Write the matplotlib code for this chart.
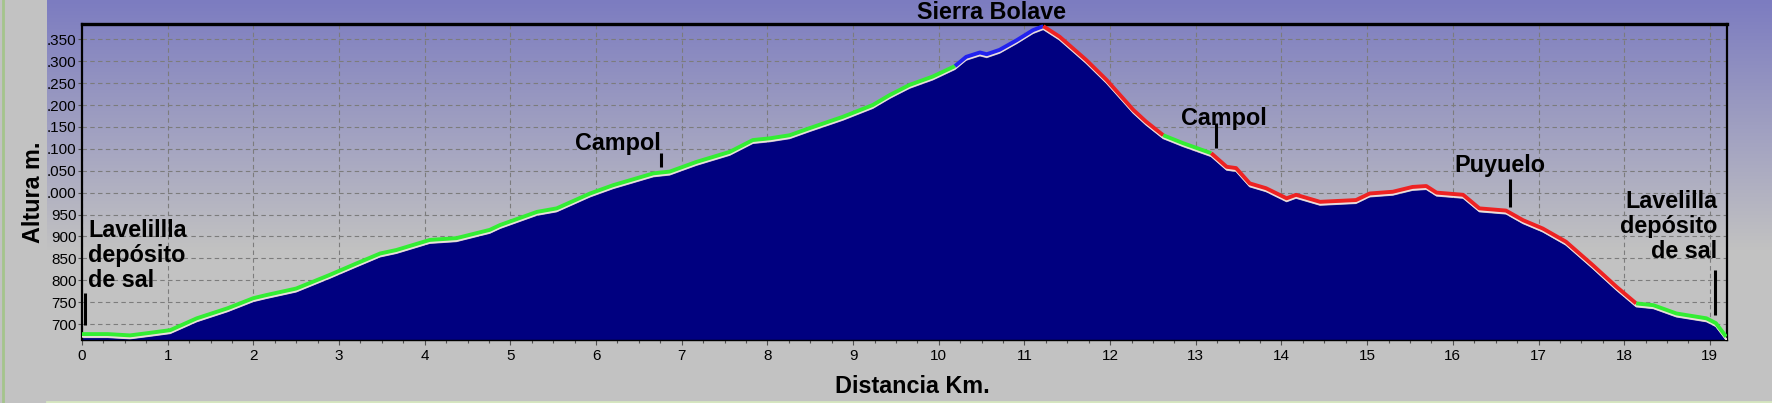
import numpy as np
import matplotlib
matplotlib.use('Agg')
import matplotlib.pyplot as plt
from matplotlib.transforms import offset_copy

plt.rcParams['font.family'] = ['Liberation Sans', 'DejaVu Sans']

# elevation profile (distance km, altitude m)
km = [0.0, 0.3, 0.56, 0.8, 1.03, 1.34, 1.7, 2.0, 2.15, 2.5, 2.89, 3.2, 3.48, 3.67,
      4.06, 4.37, 4.76, 4.88, 5.31, 5.54, 5.93, 6.2, 6.67, 6.86, 7.17, 7.56, 7.83,
      8.03, 8.26, 8.49, 8.88, 9.23, 9.43, 9.66, 9.93, 10.19, 10.32, 10.48, 10.56,
      10.71, 10.91, 11.1, 11.22, 11.41, 11.72, 11.96, 12.27, 12.42, 12.62, 12.85,
      13.18, 13.36, 13.47, 13.63, 13.82, 14.06, 14.17, 14.45, 14.87, 15.03, 15.3,
      15.53, 15.69, 15.81, 16.12, 16.31, 16.62, 16.82, 17.05, 17.32, 17.63, 17.91,
      18.14, 18.34, 18.61, 18.96, 19.07, 19.19]
elev = [677, 677, 674, 680, 686, 713, 736, 759, 766, 781, 812, 838, 861, 869,
        892, 896, 915, 926, 956, 964, 998, 1017, 1044, 1048, 1070, 1093, 1120,
        1124, 1131, 1147, 1173, 1200, 1223, 1246, 1265, 1289, 1310, 1320, 1316,
        1326, 1348, 1371, 1380, 1356, 1303, 1257, 1189, 1162, 1131, 1113,
        1090, 1059, 1056, 1021, 1010, 987, 995, 979, 983, 998, 1002,
        1013, 1015, 1000, 995, 964, 959, 937, 918, 888, 835, 785,
        747, 743, 724, 713, 702, 671]

# coloured stretches of the track
sec_start = [0.0, 10.19, 11.22, 12.62, 13.18, 18.14]
sec_end = [10.19, 11.22, 12.62, 13.18, 18.14, 19.19]
sec_color = ['#33ee33', '#2222ee', '#ee2222', '#33ee33', '#ee2222', '#33ee33']

# waypoint marks (km, bottom and top of the black tick in metres)
wp_km = [0.04, 6.76, 13.23, 16.67, 19.06]
wp_low = [698, 1058, 1102, 968, 721]
wp_high = [771, 1090, 1159, 1031, 823]

x_ticks = list(range(0, 20))
y_ticks = list(range(700, 1351, 50))
y_tick_labels = ['700', '750', '800', '850', '900', '950', '.000', '.050',
                 '.100', '.150', '.200', '.250', '.300', '.350']

W, H = 1772, 403
fig = plt.figure(figsize=(W / 100, H / 100), dpi=100)
fig.patch.set_facecolor('#c2c2c2')

# window background: purple to grey gradient, green frame edges
bg = fig.add_axes([0, 0, 1, 1], zorder=0)
bg.set_xlim(0, W)
bg.set_ylim(H, 0)
bg.axis('off')
rows = np.clip(np.arange(H) / 250.0, 0, 1)[:, None]
top_c = np.array([124, 124, 192]) / 255
bot_c = np.array([194, 194, 194]) / 255
img = top_c * (1 - rows) + bot_c * rows
bg.imshow(img[:, None, :], extent=(47, W, H, 0), aspect='auto', zorder=0)
bg.plot([3, 3], [0, H], color='#a4c48c', lw=2, zorder=1)
bg.plot([47, W], [401.5, 401.5], color='#d6e6c0', lw=2, zorder=1)

ax = fig.add_axes([82 / W, 1 - 340 / H, (1727 - 82) / W, (340 - 24) / H], zorder=1)
ax.set_facecolor('none')
ax.set_xlim(0, 19.2)
ax.set_ylim(663.5, 1385)

k = np.array(km)
e = np.array(elev)

fill_tr = offset_copy(ax.transData, fig=fig, y=-4, units='dots')
ax.fill_between(k, e, 0, color='#000080', lw=0, transform=fill_tr, zorder=2)
glow_tr = offset_copy(ax.transData, fig=fig, y=-2.5, units='dots')
ax.plot(k, e, color='#ecdede', lw=1.6, transform=glow_tr, zorder=3)
for s, f, c in zip(sec_start, sec_end, sec_color):
    m = (k >= s) & (k <= f)
    ax.plot(k[m], e[m], color=c, lw=2.8, zorder=4, solid_capstyle='butt')

ax.vlines(wp_km, wp_low, wp_high, color='black', lw=2.2, zorder=5)

lbl = dict(fontsize=16.8, fontweight='bold', color='black', zorder=6)
ax.text(0.07, 784, 'Lavelillla\ndepósito\nde sal', ha='left', va='baseline',
        linespacing=1.13, **lbl)
ax.text(6.75, 1097, 'Campol', ha='right', va='baseline', **lbl)
ax.text(12.83, 1154, 'Campol', ha='left', va='baseline', **lbl)
ax.text(16.02, 1048, 'Puyuelo', ha='left', va='baseline', **lbl)
ax.text(19.09, 850, 'Lavelilla\ndepósito\nde sal', ha='right', va='baseline',
        multialignment='right', linespacing=1.13, **lbl)
ax.text(10.62, 1396, 'Sierra Bolave', ha='center', va='baseline', clip_on=False, **lbl)

ax.set_xticks(x_ticks)
ax.set_xticks(np.arange(0, 19.2, 0.25), minor=True)
ax.set_yticks(y_ticks)
ax.set_yticklabels(y_tick_labels)
ax.tick_params(axis='x', which='major', direction='out', length=3.8, width=0.8,
               color='#505050', labelsize=11, pad=3)
ax.tick_params(axis='x', which='minor', direction='out', length=2.2, width=0.8,
               color='#505050')
ax.tick_params(axis='y', which='major', direction='out', length=3, width=0.8,
               color='#505050', labelsize=11, pad=1)

ax.set_axisbelow(True)
ax.grid(True, which='major', color='#7c7c7c', ls=(0, (4, 3)), lw=0.8)

for side, lw in (('top', 2.4), ('left', 1.6), ('right', 1.6), ('bottom', 1.0)):
    ax.spines[side].set_color('black')
    ax.spines[side].set_linewidth(lw)

fig.text(33 / W, 1 - 192 / H, 'Altura m.', rotation=90, ha='center', va='center',
         fontsize=16.8, fontweight='bold')
fig.text(912 / W, 1 - 393 / H, 'Distancia Km.', ha='center', va='baseline',
         fontsize=16.8, fontweight='bold')

fig.savefig('out.png', dpi=100, facecolor=fig.get_facecolor())
